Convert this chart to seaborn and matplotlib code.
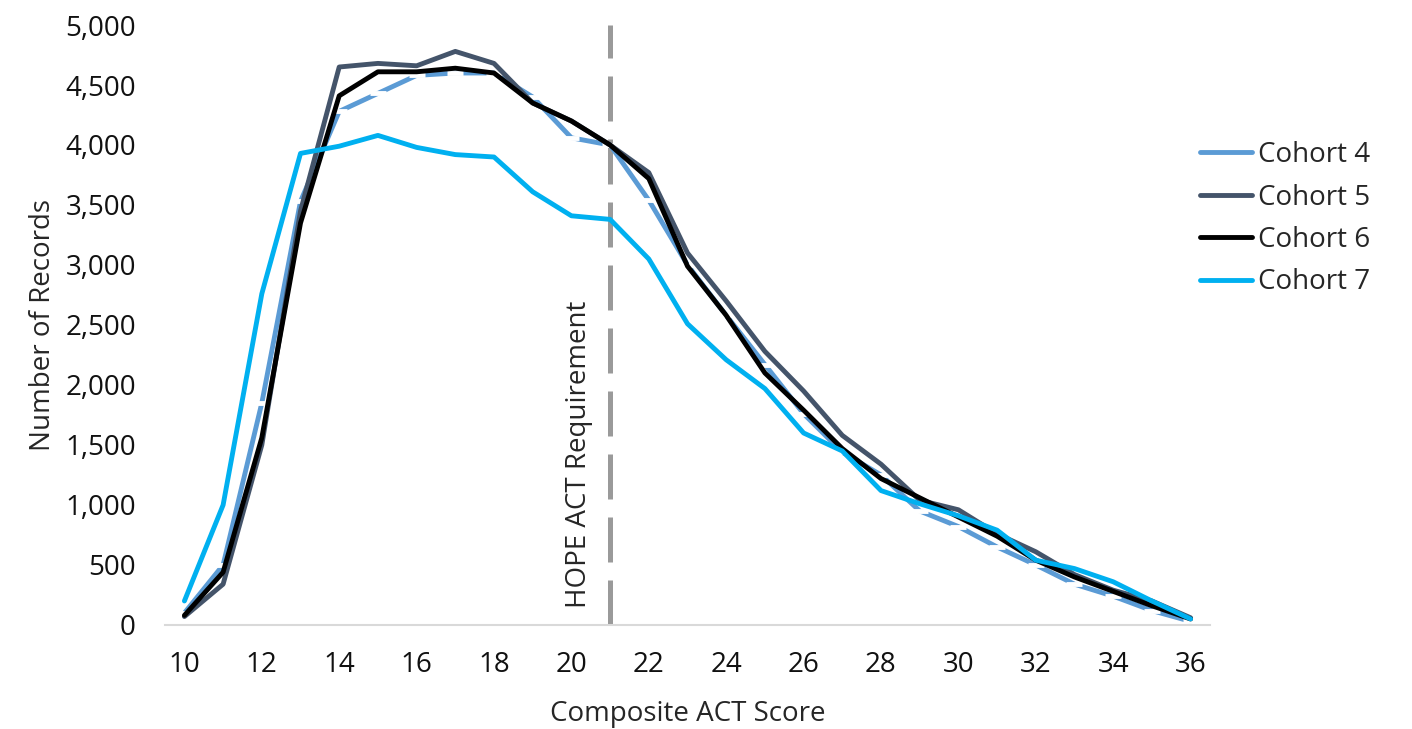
import matplotlib
matplotlib.use('Agg')
import matplotlib.pyplot as plt
import matplotlib.ticker as mticker
import seaborn as sns
import pandas as pd

sns.set_style('white')
plt.rcParams['font.family'] = ['Open Sans', 'DejaVu Sans']

# datos
scores = list(range(10, 37))
cohort4 = [100, 500, 1850, 3530, 4280, 4430, 4580, 4600, 4600, 4400, 4060, 4000, 3540, 3000,
           2580, 2170, 1760, 1440, 1250, 950, 820, 650, 500, 340, 240, 120, 30]
cohort5 = [70, 340, 1500, 3450, 4650, 4680, 4660, 4780, 4680, 4350, 4200, 4000, 3770, 3100,
           2700, 2280, 1950, 1580, 1340, 1040, 960, 760, 610, 420, 290, 200, 60]
cohort6 = [80, 440, 1560, 3350, 4410, 4610, 4610, 4640, 4600, 4350, 4200, 4000, 3720, 2990,
           2580, 2100, 1790, 1470, 1220, 1060, 900, 740, 540, 400, 280, 160, 50]
cohort7 = [200, 1000, 2760, 3930, 3990, 4080, 3980, 3920, 3900, 3610, 3410, 3380, 3050, 2510,
           2210, 1970, 1600, 1450, 1120, 1010, 910, 790, 540, 470, 360, 200, 50]
names = ['Cohort 4', 'Cohort 5', 'Cohort 6', 'Cohort 7']
colores = ['#5B9BD5', '#44546A', '#000000', '#00B0F0']
hope_score = 21
y_ticks = list(range(0, 5001, 500))
x_ticks = list(range(10, 37, 2))

df = pd.DataFrame({'score': scores * 4,
                   'records': cohort4 + cohort5 + cohort6 + cohort7,
                   'cohort': sum([[n] * len(scores) for n in names], [])})

fs = 20
fig = plt.figure(figsize=(14.12, 7.29), dpi=100)
ax = fig.add_axes([0.1169, 0.1427, 0.740, 0.823])

# linea vertical punteada (requisito HOPE)
ax.plot([hope_score, hope_score], [0, 5000], color='#9a9a9a', lw=3.6,
        dashes=(9, 3.6), solid_capstyle='butt', dash_capstyle='butt', zorder=1)

for n, c in zip(names, colores):
    sub = df[df['cohort'] == n]
    if n == 'Cohort 4':
        sns.lineplot(data=sub, x='score', y='records', ax=ax, color=c, lw=3.5, label=n,
                     marker='_', markersize=12, markeredgewidth=3.5, zorder=2)
    else:
        sns.lineplot(data=sub, x='score', y='records', ax=ax, color=c, lw=3.5, label=n, zorder=2)

ax.text(20.2, 140, 'HOPE ACT Requirement', rotation=90, ha='center', va='bottom', fontsize=fs)

ax.set_xlim(9.5, 36.5)
ax.set_ylim(0, 5000)
ax.set_xticks(x_ticks)
ax.set_yticks(y_ticks)
ax.yaxis.set_major_formatter(mticker.FuncFormatter(lambda v, p: '{:,.0f}'.format(v)))
ax.tick_params(axis='both', length=0, labelsize=fs, colors='#111111')
ax.tick_params(axis='x', pad=19)
ax.tick_params(axis='y', pad=21)
ax.set_xlabel('Composite ACT Score', fontsize=fs, labelpad=15)
ax.set_ylabel('Number of Records', fontsize=fs, labelpad=6)

for s in ['top', 'right', 'left']:
    ax.spines[s].set_visible(False)
ax.spines['bottom'].set_color('#d9d9d9')
ax.spines['bottom'].set_linewidth(1.5)

leg = ax.legend(loc='upper left', bbox_to_anchor=(0.98, 0.825), frameon=False, fontsize=fs,
                handlelength=1.87, handletextpad=0.22, labelspacing=0.52, borderaxespad=0)
for h in leg.get_lines():
    h.set_marker('')

fig.savefig('out.png', dpi=100)
